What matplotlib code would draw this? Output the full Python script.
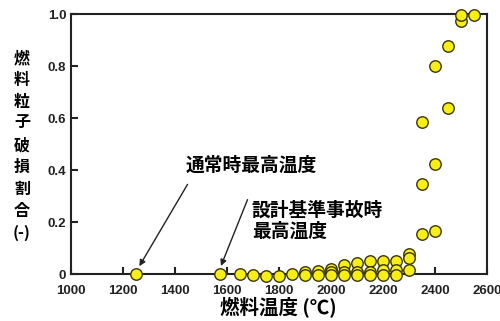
import matplotlib
matplotlib.use("Agg")
import matplotlib.pyplot as plt

plt.rcParams['font.family'] = ['Noto Sans CJK JP', 'DejaVu Sans']

# data
temps = [1250, 1575, 1650, 1700, 1750, 1800, 1850,
         1900, 1900, 1950, 1950,
         2000, 2000, 2000, 2050, 2050, 2050,
         2100, 2100, 2100, 2150, 2150, 2150,
         2200, 2200, 2200, 2250, 2250, 2250,
         2300, 2300, 2300, 2350, 2350, 2350,
         2400, 2400, 2400, 2450, 2450, 2500, 2500, 2550]
fractions = [0.0, 0.0, 0.0, -0.002, -0.005, -0.006, 0.0,
             0.008, -0.002, 0.012, -0.002,
             0.022, 0.01, -0.002, 0.036, 0.008, -0.004,
             0.043, 0.01, -0.002, 0.05, 0.01, -0.004,
             0.05, 0.015, -0.002, 0.053, 0.015, -0.002,
             0.078, 0.062, 0.018, 0.155, 0.346, 0.587,
             0.168, 0.424, 0.801, 0.641, 0.879, 0.974, 0.997, 0.997]

xticks = [1000, 1200, 1400, 1600, 1800, 2000, 2200, 2400, 2600]
yticks = [0, 0.2, 0.4, 0.6, 0.8, 1.0]
ylabels = ["0", "0.2", "0.4", "0.6", "0.8", "1.0"]

fig = plt.figure(figsize=(5.0, 3.21), dpi=100)
ax = fig.add_axes([0.141, 0.1455, 0.833, 0.81])

ax.scatter(temps, fractions, s=68, facecolor='#f7ee12', edgecolor='#3a3500',
           linewidth=1.0, zorder=5, clip_on=False)

ax.set_xlim(1000, 2600)
ax.set_ylim(0, 1.0)
ax.set_xticks(xticks)
ax.set_yticks(yticks)
ax.set_yticklabels(ylabels)
for s in ax.spines.values():
    s.set_linewidth(1.5)
    s.set_color('#222222')
ax.tick_params(direction='in', length=5, width=1.5, color='#222222', pad=3)
ax.tick_params(axis='x', pad=8)
for lab in ax.get_xticklabels() + ax.get_yticklabels():
    lab.set_family('Liberation Sans')
    lab.set_fontweight('bold')
    lab.set_fontsize(9.5)
    lab.set_color('#222222')

ax.set_xlabel("燃料温度 (℃)", fontsize=14, fontweight='bold', labelpad=0)
fig.text(0.044, 0.547, "燃\n料\n粒\n子\n破\n損\n割\n合\n(-)", fontsize=11.5,
         fontweight='bold', ha='center', va='center', linespacing=1.45)

ax.text(1444, 0.42, "通常時最高温度", fontsize=13.5, fontweight='bold',
        ha='left', va='center')
ax.annotate('', xy=(1259, 0.022), xytext=(1455, 0.355),
            arrowprops=dict(arrowstyle='-|>', color='#222222', lw=1.0,
                            mutation_scale=9))
ax.text(1697, 0.205, "設計基準事故時\n最高温度", fontsize=13.5, fontweight='bold',
        ha='left', va='center', linespacing=1.1)
ax.annotate('', xy=(1574, 0.022), xytext=(1684, 0.297),
            arrowprops=dict(arrowstyle='-|>', color='#222222', lw=1.0,
                            mutation_scale=9))

fig.savefig("out.png", dpi=100)
